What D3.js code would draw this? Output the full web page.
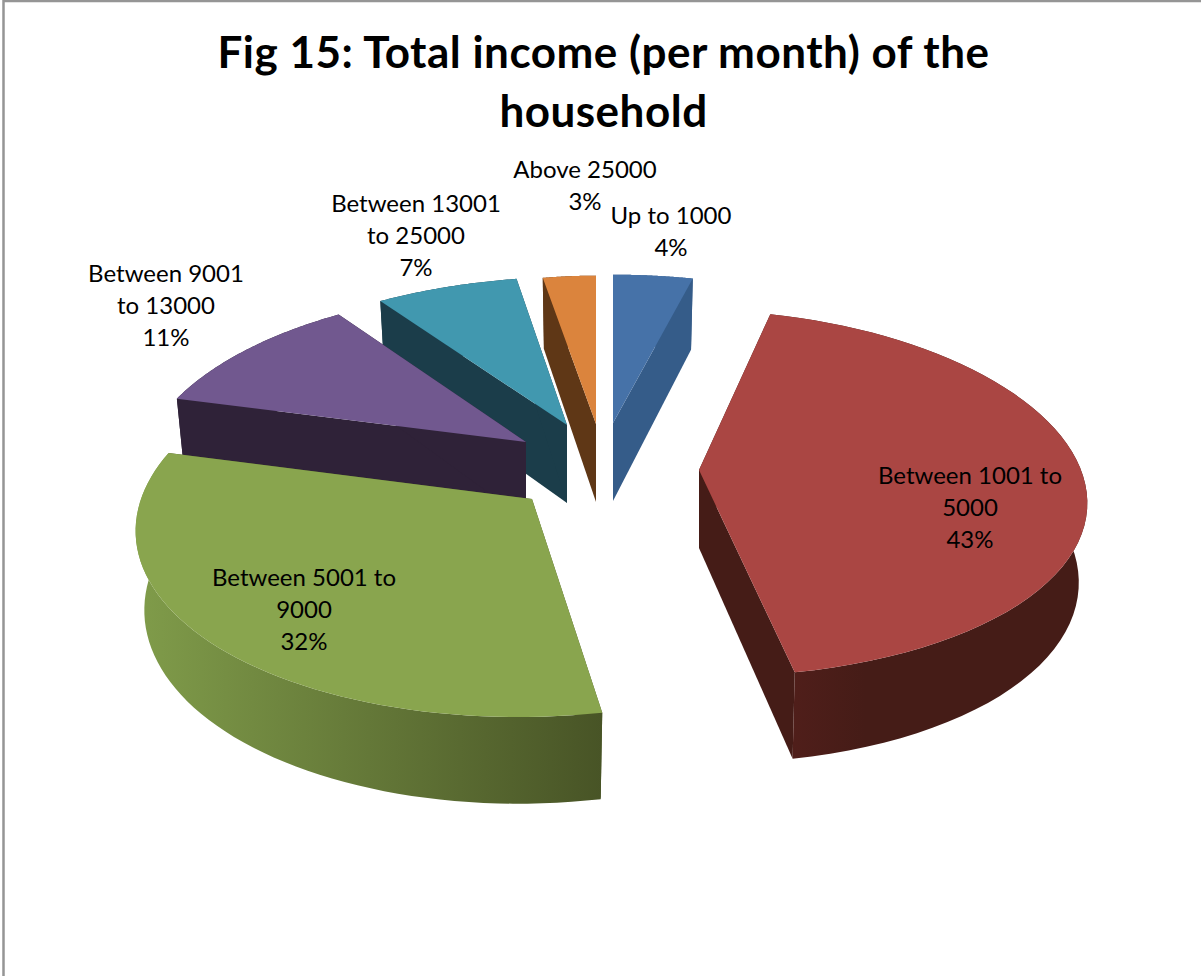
<!DOCTYPE html>
<html><head><meta charset="utf-8">
<script src="https://cdnjs.cloudflare.com/ajax/libs/d3/7.8.5/d3.min.js"></script>
<style>html,body{margin:0;padding:0;background:#fff}svg{display:block}text{font-family:Lato,"Open Sans",sans-serif;fill:#000}</style>
</head><body><script>
// data
const categories = ["Up to 1000","Between 1001 to 5000","Between 5001 to 9000","Between 9001 to 13000","Between 13001 to 25000","Above 25000"];
const percents = [4,43,32,11,7,3];
const titleLines = ["Fig 15: Total income (per month) of the","household"];
const labelLines = [["Up to 1000"],["Between 1001 to","5000"],["Between 5001 to","9000"],["Between 9001","to 13000"],["Between 13001","to 25000"],["Above 25000"]];
// style
const topColors = ["#4672A8","#AA4643","#89A54E","#71588F","#4198AF","#DB843D"];
const faceColors = ["#355C89","#451C17","#4A5527","#2F2238","#1B3D4A","#5F3716"];
const wallLeft = ["#355C89","#531F1B","#809C4A","#2F2238","#1B3D4A","#5F3716"];
const wallRight = ["#355C89","#451C17","#485426","#2F2238","#1B3D4A","#5F3716"];
// layout: per-slice perspective of the exploded 3-D pie
const apexX = [613,699,532,526,567,596];
const apexY = [423,470,499,442,425,424];
const radiusX = [383,382,391,380,385,340];
const radiusY = [178,180.5,191,183,178,178];
const perspX = [.2,.15,.13,.2,.2,.2];
const perspY = [.2,.126,.124,.2,.2,.2];
const shear = [0,-12,14,6,10,0];
const labelX = [671,970,304,166,416,585];
const labelY = [224,484,586,282,212,178];
const drawOrder = [5,0,4,3,2,1];

const W=1201,H=976, D=78;
const svg=d3.select("body").append("svg").attr("width",W).attr("height",H);
const defs=svg.append("defs");
const pie=d3.pie().sort(null).value(d=>d)(percents);
const line=d3.line();

function upper(i,a){const X=Math.sin(a),Y=Math.cos(a);
  return [apexX[i]+radiusX[i]*X/(1+perspX[i]*Y)+shear[i]*Y, apexY[i]-radiusY[i]*Y/(1+perspY[i]*Y)];}
function lower(i,p,a){const Y=a==null?0:Math.cos(a);
  return [p[0]-(p[0]-apexX[i])*.022, p[1]+D/(1+.1*Y)];}
function arcPts(i,a0,a1){return d3.range(0,61).map(t=>{const a=a0+(a1-a0)*t/60;return {a,p:upper(i,a)};});}

svg.append("path").attr("d",`M3.5 ${H}V1H${W}`).attr("fill","none").attr("stroke","#959595").attr("stroke-width",2.5);

drawOrder.forEach(i=>{
  const s=pie[i], ap=[apexX[i],apexY[i]], apL=lower(i,ap);
  const g=svg.append("g").attr("class","slice");
  [s.startAngle,s.endAngle].forEach(a=>{
    const c=upper(i,a);
    g.append("path").attr("d",line([ap,c,lower(i,c,a),apL])+"Z").attr("fill",faceColors[i]);
  });
  const arc=arcPts(i,s.startAngle,s.endAngle);
  const xs=arc.map(d=>d.p[0]);
  const lg=defs.append("linearGradient").attr("id","w"+i).attr("gradientUnits","userSpaceOnUse")
    .attr("x1",d3.min(xs)).attr("x2",d3.max(xs)).attr("y1",0).attr("y2",0);
  lg.append("stop").attr("offset",0).attr("stop-color",wallLeft[i]);
  lg.append("stop").attr("offset",i===1?.3:1).attr("stop-color",wallRight[i]);
  const wall=arc.map(d=>d.p).concat(arc.slice().reverse().map(d=>lower(i,d.p,d.a)));
  g.append("path").attr("d",line(wall)+"Z").attr("fill",`url(#w${i})`);
  g.append("path").attr("d",line([ap].concat(arc.map(d=>d.p)))+"Z").attr("fill",topColors[i]);
});

const tt=svg.append("g");
titleLines.forEach((t,i)=>tt.append("text").attr("x",603.5).attr("y",68+i*59).attr("text-anchor","middle").attr("font-size",44).attr("letter-spacing",.5).attr("font-weight",700).text(t));
percents.forEach((v,i)=>{
  const g=svg.append("g");
  labelLines[i].concat(v+"%").forEach((t,j)=>g.append("text").attr("x",labelX[i]).attr("y",labelY[i]+j*32).attr("text-anchor","middle").attr("font-size",24).text(t));
});
</script></body></html>
